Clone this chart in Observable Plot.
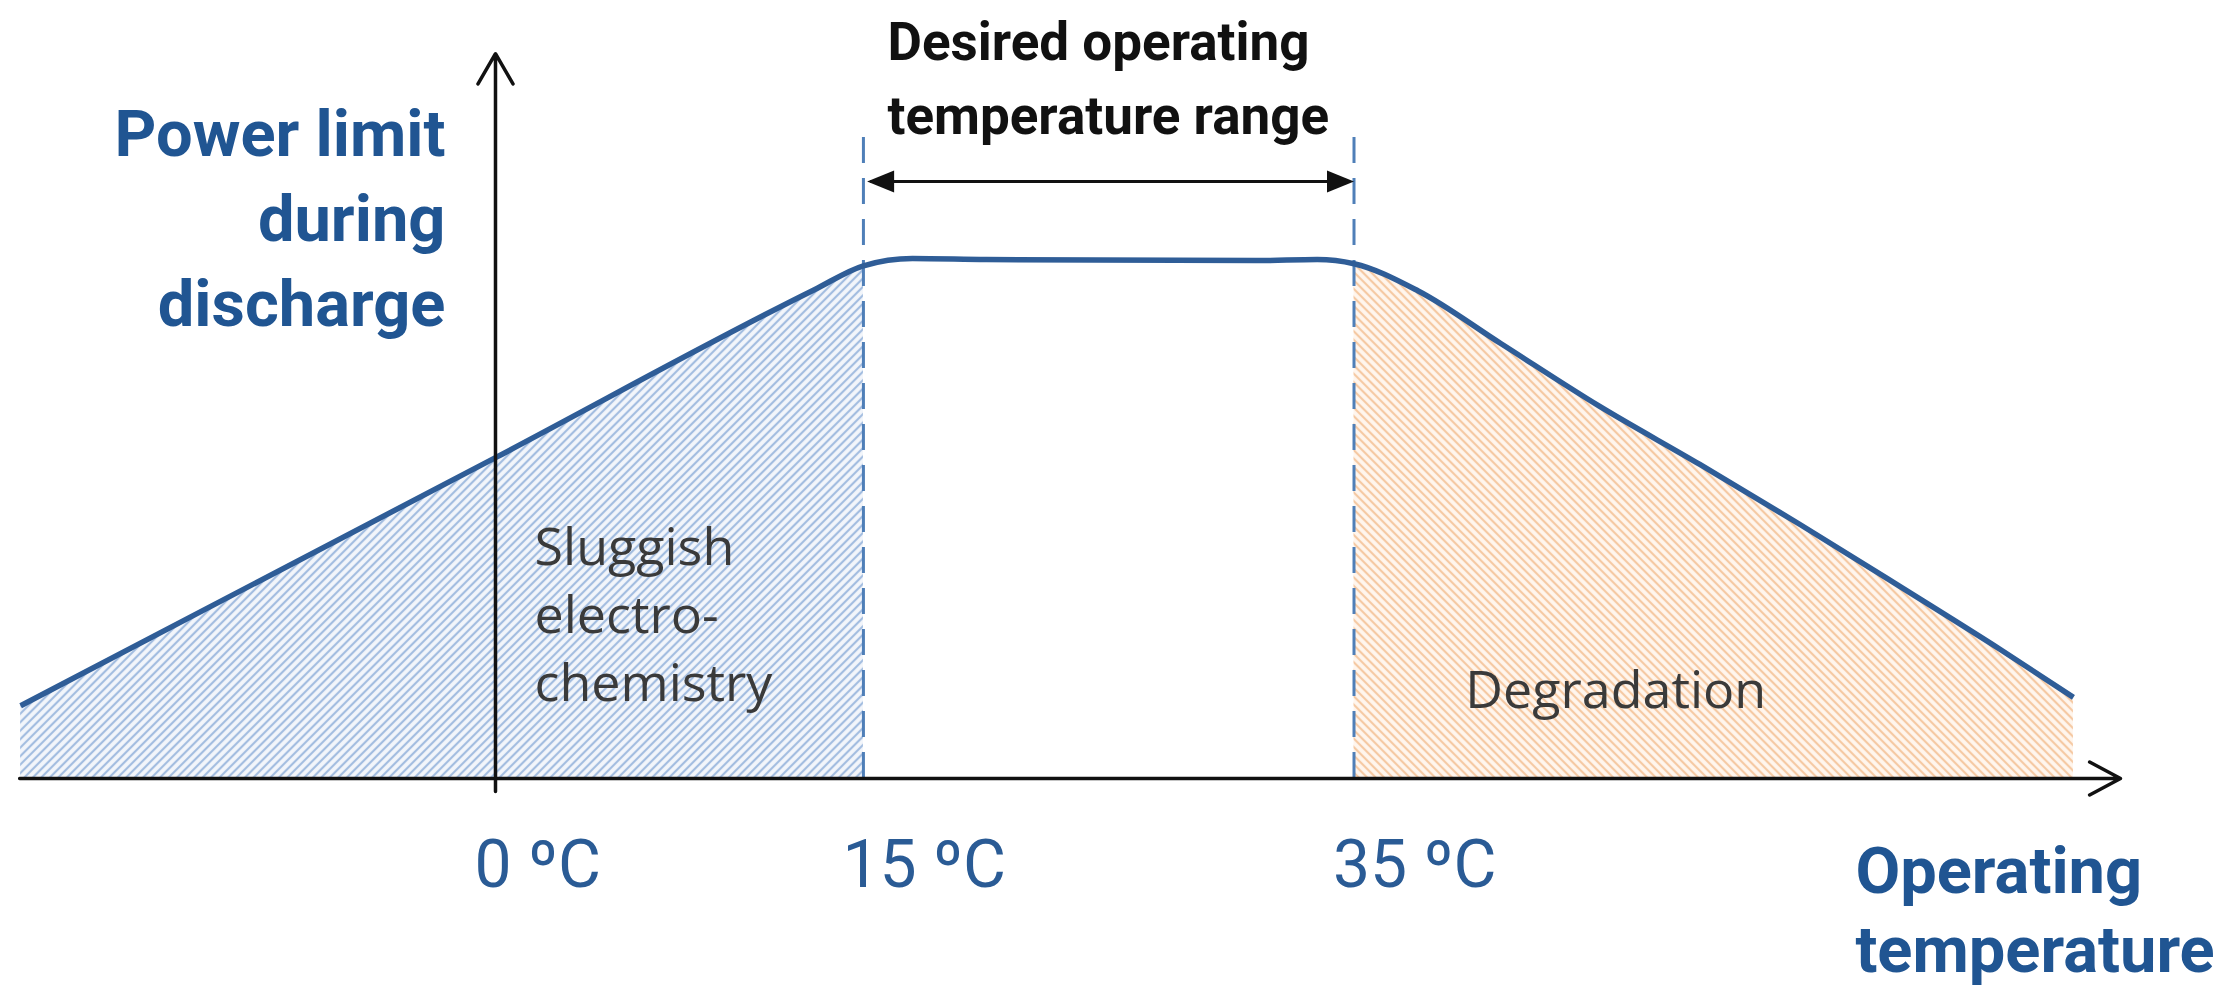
<!DOCTYPE html>
<html>
<head>
<meta charset="utf-8">
<script src="https://cdn.jsdelivr.net/npm/d3@7"></script>
<script src="https://cdn.jsdelivr.net/npm/@observablehq/plot@0.6"></script>
<style>
  html, body { margin: 0; padding: 0; background: #ffffff; }
  #chart svg { display: block; }
</style>
</head>
<body>
<svg width="0" height="0" style="position:absolute">
  <defs>
    <pattern id="hatchBlue" patternUnits="userSpaceOnUse" width="6" height="6" patternTransform="rotate(45)">
      <rect width="6" height="6" fill="#f3f6fb"></rect>
      <line x1="3" y1="0" x2="3" y2="6" stroke="#a3bde0" stroke-width="2.2"></line>
    </pattern>
    <pattern id="hatchOrange" patternUnits="userSpaceOnUse" width="6" height="6" patternTransform="rotate(-45)">
      <rect width="6" height="6" fill="#fff6ee"></rect>
      <line x1="3" y1="0" x2="3" y2="6" stroke="#f5c9a3" stroke-width="2.2"></line>
    </pattern>
  </defs>
</svg>
<div id="chart"></div>
<script>
// ---- data (temperature in ºC, power limit in relative units, plateau = 100) ----
const curveTemp  = [-19.36, 0, 13, 15, 17, 20, 31, 33.5, 35, 37.6, 41, 45, 49.1, 53.2, 57.3, 61.35, 64.33];
const curvePower = [14.0, 61.7, 94.0, 98.6, 100, 99.8, 99.6, 99.8, 99.0, 93.8, 83.6, 71.6, 60.4, 48.8, 36.8, 24.8, 15.6];

const tickTemps  = [0, 15, 35];
const tickLabels = ["0 ºC", "15 ºC", "35 ºC"];

const rangeTemps = [15, 35];          // desired operating range bounds
const axisXExtent = [-19.4, 66.25];   // x axis arrow
const axisYExtent = [-2.5, 139.4];    // y axis arrow
const rangeTop = 126;                 // top of the dashed bounds
const rangeArrowLevel = 114.8;        // double arrow level

const yTitleLines     = ["Power limit", "during", "discharge"];
const xTitleLines     = ["Operating", "temperature"];
const rangeTitleLines = ["Desired operating", "temperature range"];
const coldZoneLines   = ["Sluggish", "electro-", "chemistry"];
const hotZoneLines    = ["Degradation"];

// ---- build ----
const curve = curveTemp.map((t, i) => ({t, p: curvePower[i]}));
const coldZone = curve.filter(d => d.t <= rangeTemps[0]);
const hotZone  = curve.filter(d => d.t >= rangeTemps[1]);

const headRight = {draw(ctx) { ctx.moveTo(0, 0); ctx.lineTo(-27, -11); ctx.lineTo(-27, 11); ctx.closePath(); }};
const headLeft  = {draw(ctx) { ctx.moveTo(0, 0); ctx.lineTo(27, -11); ctx.lineTo(27, 11); ctx.closePath(); }};

const blueTitle = "#205592";
const bold = {fontFamily: "Roboto", fontWeight: 700, lineAnchor: "bottom"};

const chart = Plot.plot({
  width: 2226,
  height: 995,
  margin: 0,
  style: {background: "white", overflow: "visible"},
  x: {domain: [-20.18, 70.57], axis: null},
  y: {domain: [-41.73, 149.62], axis: null},
  marks: [
    Plot.areaY(coldZone, {x: "t", y: "p", fill: "url(#hatchBlue)", curve: "monotone-x"}),
    Plot.areaY(hotZone,  {x: "t", y: "p", fill: "url(#hatchOrange)", curve: "monotone-x"}),
    Plot.ruleX(rangeTemps, {y1: 0, y2: rangeTop, stroke: "#4f7fb8", strokeWidth: 3, strokeDasharray: "26,15"}),
    Plot.line(curve, {x: "t", y: "p", stroke: "#2f5d97", strokeWidth: 5.5, curve: "monotone-x", strokeLinecap: "butt"}),
    // axes as arrows
    Plot.arrow([0], {x1: axisXExtent[0], x2: axisXExtent[1], y1: 0, y2: 0, stroke: "#111", strokeWidth: 3.5, headLength: 15, headAngle: 56}),
    Plot.arrow([0], {x1: 0, x2: 0, y1: axisYExtent[0], y2: axisYExtent[1], stroke: "#111", strokeWidth: 3.5, headLength: 15, headAngle: 60}),
    // desired range double arrow
    Plot.ruleY([rangeArrowLevel], {x1: rangeTemps[0] + 0.3, x2: rangeTemps[1] - 0.3, stroke: "#111", strokeWidth: 3}),
    Plot.dot([rangeTemps[1]], {x: d => d, y: () => rangeArrowLevel, symbol: headRight, r: 10, fill: "#111", stroke: "none"}),
    Plot.dot([rangeTemps[0]], {x: d => d + 0.15, y: () => rangeArrowLevel, symbol: headLeft, r: 10, fill: "#111", stroke: "none"}),
    // tick labels
    Plot.text(tickTemps, {x: d => d, y: () => -20.96, text: (d, i) => tickLabels[i], textAnchor: "start", dx: -21,
      lineAnchor: "bottom", fontFamily: "Roboto", fontWeight: 400, fontSize: 66, fill: "#2a5b95"}),
    // titles
    Plot.text(yTitleLines, {x: () => -2.04, y: (d, i) => 119.8 - i * 16.4, text: d => d, textAnchor: "end",
      ...bold, fontSize: 65, fill: blueTitle}),
    Plot.text(xTitleLines, {x: () => 55.44, y: (d, i) => -22.1 - i * 15.2, text: d => d, textAnchor: "start",
      ...bold, fontSize: 65, fill: blueTitle}),
    Plot.text(rangeTitleLines, {x: () => 15.98, y: (d, i) => 138.1 - i * 14.1, text: d => d, textAnchor: "start",
      ...bold, fontSize: 53, fill: "#111"}),
    // zone labels
    Plot.text(coldZoneLines, {x: () => 1.59, y: (d, i) => 41.0 - i * 13.0, text: d => d, textAnchor: "start",
      lineAnchor: "bottom", fontFamily: "Open Sans", fontWeight: 400, fontSize: 52, fill: "#3a3a3a"}),
    Plot.text(hotZoneLines, {x: () => 39.54, y: () => 13.65, text: d => d, textAnchor: "start",
      lineAnchor: "bottom", fontFamily: "Open Sans", fontWeight: 400, fontSize: 52, fill: "#3a3a3a"})
  ]
});
document.getElementById("chart").appendChild(chart);
</script>
</body>
</html>
